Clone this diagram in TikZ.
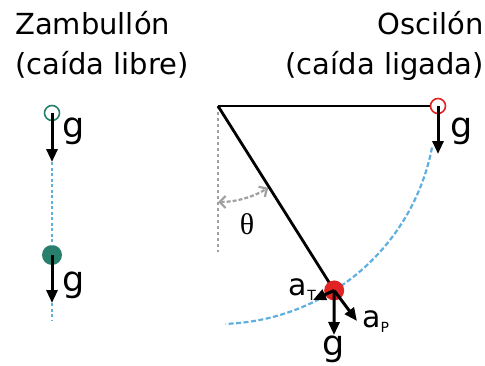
\documentclass[tikz,border=0pt]{standalone}
\usepackage{fontspec}
\setmainfont{DejaVu Sans}
\newfontfamily\greekfont{Liberation Serif}
\usepackage{xcolor}
\definecolor{verdeazul}{RGB}{40, 128, 108}
\definecolor{rojo}{RGB}{225, 35, 35}
\definecolor{celeste}{RGB}{95, 175, 225}
\definecolor{gris}{RGB}{160, 160, 160}
\usetikzlibrary{calc, positioning, arrows.meta}

\begin{document}
\begin{tikzpicture}[
  x=1pt, y=1pt,
  title/.style={font=\fontsize{29}{29}\selectfont, inner sep=0pt},
  glabel/.style={font=\fontsize{35}{35}\selectfont, inner sep=0pt},
  alabel/.style={font=\fontsize{30}{30}\selectfont, inner sep=0pt},
  force/.style={-{Triangle[length=13pt,width=11pt]}, line width=3pt, black},
  hollow/.style={circle, draw=#1, line width=1.6pt, minimum size=15pt, inner sep=0pt},
  bolita/.style={circle, fill=#1, minimum size=20pt, inner sep=0pt},
  tray/.style={celeste, line width=2.2pt, dash pattern=on 5pt off 2.5pt}
]
  \useasboundingbox (0,0) rectangle (485,365);

  \node[title, anchor=base west] (zam) at (15,330) {Zambullón};
  \node[title, anchor=base west] (zamsub) at (15,290) {(caída libre)};
  \node[title, anchor=base east] (osc) at (484,330) {Oscilón};
  \node[title, anchor=base east] (oscsub) at (484,290) {(caída ligada)};

  \node[hollow=verdeazul] (z0) at (52,252) {};
  \coordinate (z0g) at (52,203);
  \node[bolita=verdeazul] (z1) at (52,110) {};
  \coordinate (z1g) at (52,62);
  \coordinate (zend) at (52,45);
  \draw[tray, dash pattern=on 3pt off 2.5pt] (z0g) -- (z1);
  \draw[tray, dash pattern=on 3pt off 2.5pt] (z1g) -- (zend);
  \draw[force] (z0.center) -- (z0g);
  \draw[force] (z1.center) -- (z1g);
  \node[glabel] at (74,234) {g};
  \node[glabel] at (74,80) {g};

  \coordinate (piv) at (218,259);
  \node[hollow=rojo] (top) at (438,259) {};
  \coordinate (bobpos) at ($(piv)+(-57.8:218)$);
  \coordinate (vend) at (218,113);

  \draw[tray] ($(piv)+(-11:218)$) arc[start angle=-11, end angle=-88, radius=218];
  \draw[gris, line width=1.6pt, dash pattern=on 3pt off 3pt] (piv) -- (vend);
  \draw[gris, line width=2.2pt, dash pattern=on 4pt off 2pt, {Straight Barb[length=6pt]}-{Straight Barb[length=6pt]}]
    ($(piv)+(-90:96)$) arc[start angle=-90, end angle=-58.5, radius=96];
  \node[font=\fontsize{30}{30}\selectfont\greekfont] (theta) at (247,141) {θ};

  \draw[line width=2.4pt] (piv) -- (top.west);
  \draw[line width=2.8pt] (piv) -- (bobpos);
  \node[bolita=rojo] (bob) at (bobpos) {};

  \coordinate (topg) at (438,211);
  \draw[force] (top.center) -- (topg);
  \node[glabel] at (462,234) {g};

  \coordinate (bobg) at (334,30);
  \coordinate (bobp) at (357,44);
  \coordinate (bobt) at (313,65);
  \draw[force] (bob.center) -- (bobg);
  \draw[force] (bob.center) -- (bobp);
  \draw[force] (bob.center) -- (bobt);
  \node[glabel] (gb) at (334,16) {g};
  \node[alabel, anchor=base west] (ap) at (362,38) {a\raisebox{-5pt}{\fontsize{14}{14}\selectfont P}};
  \node[alabel, anchor=base east] (at) at (316,70) {a\raisebox{-5pt}{\fontsize{14}{14}\selectfont T}};
\end{tikzpicture}
\end{document}
